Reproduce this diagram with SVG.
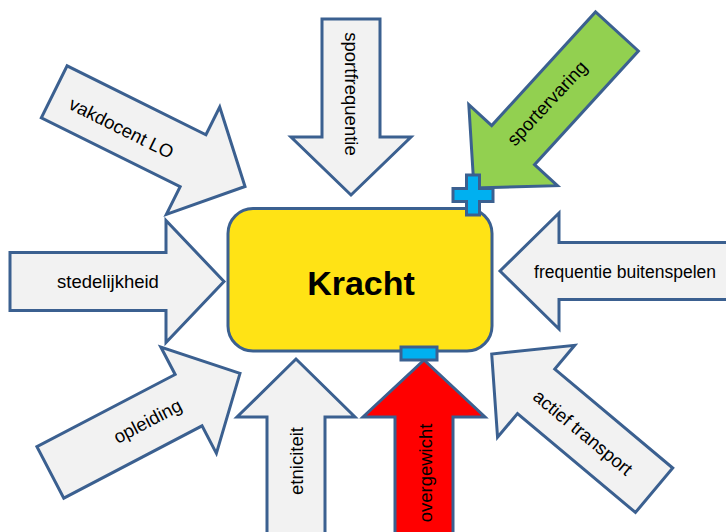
<svg xmlns="http://www.w3.org/2000/svg" width="726" height="532" viewBox="0 0 726 532">
  <style>
    .arrow { fill: #F2F2F2; stroke: #3B6090; stroke-width: 3; stroke-linejoin: miter; }
    .green { fill: #92D050; }
    .red { fill: #FF0000; }
    .lbl { font-family: "Liberation Sans", Arial, sans-serif; font-size: 18.5px; fill: #000; text-anchor: middle; }
    .lbl-sm { font-size: 17.5px; }
    .core { fill: #FFE315; stroke: #3B6090; stroke-width: 3; }
    .sign { fill: #00B0F0; stroke: #3B6090; stroke-width: 3; }
    .title { font-family: "Liberation Sans", Arial, sans-serif; font-size: 34px; font-weight: bold; fill: #000; text-anchor: middle; }
  </style>

  <!-- Block arrows: each drawn with its tip at the local origin, pointing along +x -->
  <g id="arrows">
    <g id="vakdocent">
      <path class="arrow" transform="translate(245,186.5) rotate(26.4)" d="M0,0 L-58,-60 L-58,-29 L-213,-29 L-213,29 L-58,29 L-58,60 Z"/>
      <text class="lbl" transform="translate(121.5,128) rotate(26.5)" x="0" y="6.5">vakdocent LO</text>
    </g>
    <g id="sportfrequentie">
      <path class="arrow" transform="translate(351,195) rotate(90)" d="M0,0 L-58,-60 L-58,-29 L-176,-29 L-176,29 L-58,29 L-58,60 Z"/>
      <text class="lbl" transform="translate(351.5,94) rotate(90)" x="0" y="6.5">sportfrequentie</text>
    </g>
    <g id="sportervaring">
      <path class="arrow green" transform="translate(474,188) rotate(132.4)" d="M0,0 L-58,-60 L-58,-29 L-212,-29 L-212,29 L-58,29 L-58,60 Z"/>
      <text class="lbl" transform="translate(547,103) rotate(-47)" x="0" y="6.5">sportervaring</text>
    </g>
    <g id="stedelijkheid">
      <path class="arrow" transform="translate(224,281.5)" d="M0,0 L-58,-61 L-58,-29 L-214,-29 L-214,29 L-58,29 L-58,61 Z"/>
      <text class="lbl" transform="translate(108,281.5)" x="0" y="6.5">stedelijkheid</text>
    </g>
    <g id="buitenspelen">
      <path class="arrow" transform="translate(500,271) rotate(180)" d="M0,0 L-59,-58 L-59,-28.5 L-240,-28.5 L-240,28.5 L-59,28.5 L-59,58 Z"/>
      <text class="lbl lbl-sm" transform="translate(625,271)" x="0" y="6.5">frequentie buitenspelen</text>
    </g>
    <g id="opleiding">
      <path class="arrow" transform="translate(240,373.3) rotate(-27.6)" d="M0,0 L-58,-60 L-58,-29 L-214,-29 L-214,29 L-58,29 L-58,60 Z"/>
      <text class="lbl" transform="translate(147.5,421) rotate(-27.6)" x="0" y="6.5">opleiding</text>
    </g>
    <g id="etniciteit">
      <path class="arrow" transform="translate(296,359) rotate(-90)" d="M0,0 L-58,-59 L-58,-29 L-200,-29 L-200,29 L-58,29 L-58,59 Z"/>
      <text class="lbl" transform="translate(296.5,461) rotate(-90)" x="0" y="6.5">etniciteit</text>
    </g>
    <g id="overgewicht">
      <path class="arrow red" transform="translate(424,360) rotate(-90)" d="M0,0 L-57,-61 L-57,-29 L-200,-29 L-200,29 L-57,29 L-57,61 Z"/>
      <text class="lbl" transform="translate(425,473) rotate(-90)" x="0" y="6.5">overgewicht</text>
    </g>
    <g id="actief-transport">
      <path class="arrow" transform="translate(491.7,354) rotate(-140)" d="M0,0 L-58,-60 L-58,-29 L-212,-29 L-212,29 L-58,29 L-58,60 Z"/>
      <text class="lbl" transform="translate(583,432.5) rotate(39.5)" x="0" y="6.5">actief transport</text>
    </g>
  </g>

  <!-- Central factor -->
  <g id="kracht">
    <rect class="core" x="228" y="208.5" width="264" height="142.5" rx="25" ry="25"/>
    <text class="title" x="361" y="295">Kracht</text>
  </g>

  <!-- Effect signs -->
  <g id="plus">
    <path class="sign" d="M466.5,175 h13 v13.5 h13.5 v13 h-13.5 v13.5 h-13 v-13.5 h-13.5 v-13 h13.5 Z"/>
  </g>
  <g id="minus">
    <rect class="sign" x="401" y="347" width="36" height="13"/>
  </g>
</svg>
